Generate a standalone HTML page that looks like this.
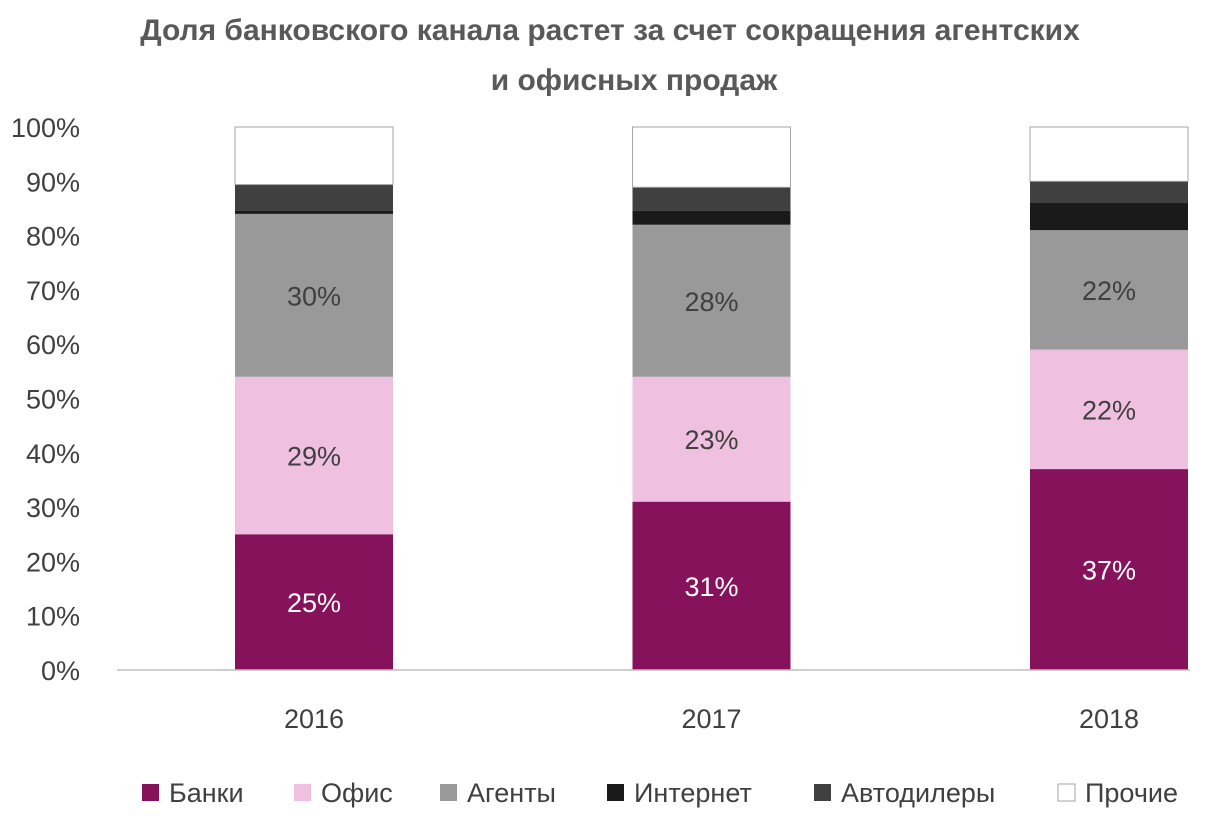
<!DOCTYPE html>
<html><head><meta charset="utf-8"><style>
body{margin:0;background:#fff;font-family:"Liberation Sans","DejaVu Sans",sans-serif}
#c{position:relative;width:1210px;height:818px;overflow:hidden}
</style></head><body>
<div id="c">
<svg id="s" width="1210" height="818">
<text x="610" y="40" text-anchor="middle" font-size="30" font-weight="bold" fill="#595959">Доля банковского канала растет за счет сокращения агентских</text>
<text x="634" y="90" text-anchor="middle" font-size="30" font-weight="bold" fill="#595959">и офисных продаж</text>
</svg>
</div>
<script>
const categories=["2016","2017","2018"];
const seriesNames=["Банки","Офис","Агенты","Интернет","Автодилеры","Прочие"];
const banks=[25,31,37];
const office=[29,23,22];
const agents=[30,28,22];
const internet=[0.6,2.6,5];
const dealers=[4.8,4.3,4];
const other=[10.6,11.1,10];
const yTicks=["0%","10%","20%","30%","40%","50%","60%","70%","80%","90%","100%"];
const colors=["#85125a","#efc0e0","#999999","#1a1a1a","#404040","#ffffff"];
const labelColors=["#fff","#404040","#404040",null,null,null];
const series=[banks,office,agents,internet,dealers,other];
const NS="http://www.w3.org/2000/svg";
const svg=document.getElementById('s');
const y0=670,y1=127;
const y=v=>y0-(y0-y1)*v/100;
const x=i=>314+i*397.5;
const bw=158;
function el(t,a){const e=document.createElementNS(NS,t);for(const k in a)e.setAttribute(k,a[k]);svg.appendChild(e);return e;}
yTicks.forEach((t,i)=>{
 const e=el('text',{x:80,y:y(i*10)+10,'text-anchor':'end','font-size':27,fill:'#404040'});
 
 
 e.textContent=t;
});
categories.forEach((c,i)=>{
 let cum=0;
 series.forEach((s,j)=>{
  const v=s[i];
  const r=el('rect',{x:x(i)-bw/2,y:y(cum+v),width:bw,height:y(cum)-y(cum+v),fill:colors[j],stroke:j==5?'#a6a6a6':'none','stroke-width':1});
  
  
  if(labelColors[j]&&v>=10){
   const t=el('text',{x:x(i),y:y(cum+v/2)+10,'text-anchor':'middle','font-size':27,fill:labelColors[j]});
   
   
   t.textContent=Math.round(v)+'%';
  }
  cum+=v;
 });
 const t=el('text',{x:x(i),y:728,'text-anchor':'middle','font-size':27,fill:'#404040'});
 
 
 t.textContent=c;
});
const ax=el('line',{x1:117,x2:1190,y1:y0,y2:y0,stroke:'#bfbfbf','stroke-width':1.5});


const lx=[142,294,440,607,814,1058];
seriesNames.forEach((n,j)=>{
 const r=el('rect',{x:lx[j],y:784,width:17,height:17,fill:colors[j],stroke:j==5?'#a6a6a6':'none'});
 
 
 const t=el('text',{x:lx[j]+27,y:802,'font-size':27,fill:'#404040'});
 
 
 t.textContent=n;
});
</script>
</body></html>
